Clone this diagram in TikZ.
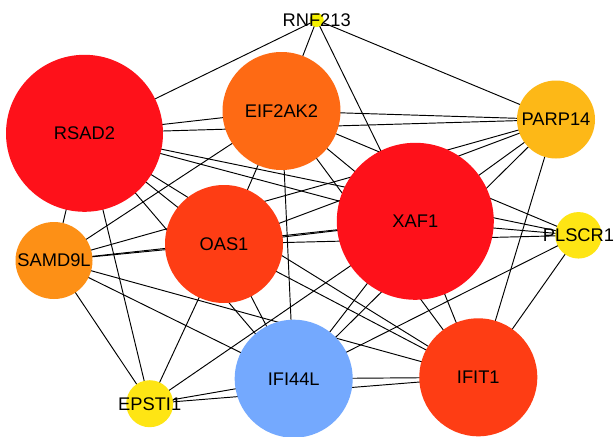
\documentclass[tikz,border=0pt]{standalone}
\usepackage{fontspec}
\setmainfont{Liberation Sans}
\usetikzlibrary{backgrounds}
\definecolor{cRed}{RGB}{254,17,26}
\definecolor{cOrRed}{RGB}{254,61,20}
\definecolor{cOrange}{RGB}{254,106,20}
\definecolor{cSam}{RGB}{253,144,22}
\definecolor{cParp}{RGB}{253,184,23}
\definecolor{cYel}{RGB}{254,229,20}
\definecolor{cRnf}{RGB}{245,240,0}
\definecolor{cBlue}{RGB}{116,169,254}
\begin{document}
\begin{tikzpicture}[x=1pt,y=-1pt,
  gnode/.style={circle,inner sep=0pt,draw=none},
  lbl/.style={font=\fontsize{18.3}{20}\selectfont,inner sep=0pt,text=black},
  edge/.style={line width=0.95pt,black}]
\useasboundingbox (0,0) rectangle (614,437);
% nodes
\node[gnode,fill=cRnf,minimum size=14pt] (R0) at (316.7,20) {};
\node[gnode,fill=cRed,minimum size=157pt] (A) at (84.5,133.3) {};
\node[gnode,fill=cOrange,minimum size=118pt] (E) at (281.5,111) {};
\node[gnode,fill=cParp,minimum size=78pt] (P) at (556,119.5) {};
\node[gnode,fill=cRed,minimum size=157pt] (X) at (415.3,221.3) {};
\node[gnode,fill=cYel,minimum size=46.5pt] (L) at (578.5,235.3) {};
\node[gnode,fill=cSam,minimum size=77pt] (S) at (54,260.5) {};
\node[gnode,fill=cOrRed,minimum size=118pt] (O) at (224,244) {};
\node[gnode,fill=cBlue,minimum size=118pt] (I) at (293.7,378.7) {};
\node[gnode,fill=cOrRed,minimum size=118pt] (T) at (478.3,377.3) {};
\node[gnode,fill=cYel,minimum size=47pt] (Ep) at (149.7,403.7) {};
% edges
\begin{pgfonlayer}{background}
\fill[white] (0,0) rectangle (614,437);
\foreach \a/\b in {R0/A,R0/E,R0/X,R0/P,
  A/E,A/P,A/X,A/L,A/O,A/I,A/T,A/S,A/Ep,
  E/P,E/L,E/X,E/T,E/I,E/O,E/S,
  P/S,P/O,P/X,P/I,P/T,
  X/L,X/S,X/O,X/I,X/T,X/Ep,
  L/O,L/I,L/T,
  S/O,S/T,S/I,S/Ep,
  O/I,O/T,O/Ep,
  I/T,I/Ep,T/Ep}
  \draw[edge] (\a.center) -- (\b.center);
\end{pgfonlayer}
% labels
\node[lbl] (tR0) at (R0) {RNF213};
\node[lbl] (tA) at (A) {RSAD2};
\node[lbl] (tE) at (E) {EIF2AK2};
\node[lbl] (tP) at (P) {PARP14};
\node[lbl] (tX) at (X) {XAF1};
\node[lbl] (tL) at (L) {PLSCR1};
\node[lbl] (tS) at (S) {SAMD9L};
\node[lbl] (tO) at (O) {OAS1};
\node[lbl] (tI) at (I) {IFI44L};
\node[lbl] (tT) at (T) {IFIT1};
\node[lbl] (tEp) at (Ep) {EPSTI1};
\end{tikzpicture}
\end{document}
